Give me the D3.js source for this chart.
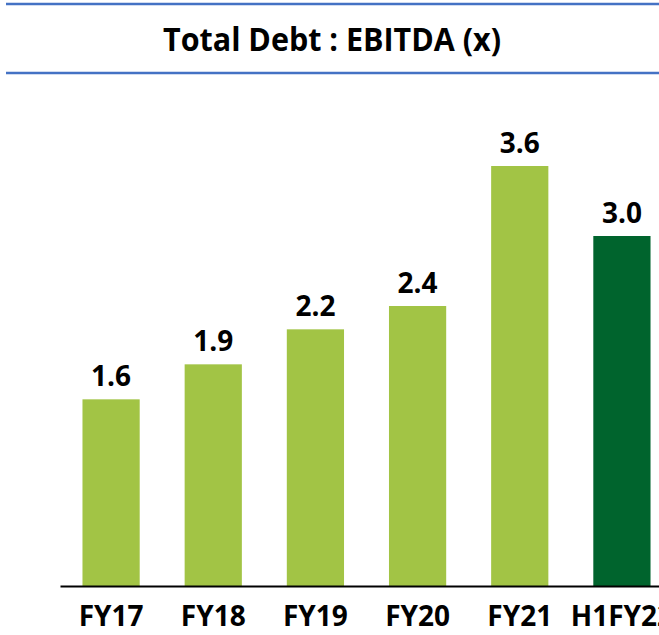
<!DOCTYPE html>
<html>
<head>
<meta charset="utf-8">
<script src="https://cdnjs.cloudflare.com/ajax/libs/d3/7.8.5/d3.min.js"></script>
<style>
  body { margin: 0; background: #fff; }
  text { font-family: 'Open Sans', 'Noto Sans', sans-serif; font-weight: bold; fill: #000; }
</style>
</head>
<body>
<div class="chart"></div>
<script>
// Data
const categories = ['FY17', 'FY18', 'FY19', 'FY20', 'FY21', 'H1FY22'];
const values = [1.6, 1.9, 2.2, 2.4, 3.6, 3.0];
const valueLabels = ['1.6', '1.9', '2.2', '2.4', '3.6', '3.0'];
const highlighted = ['H1FY22'];

const svg_width = 659;
const svg_height = 635;

const svg = d3.select('.chart').append('svg')
    .attr('width', svg_width).attr('height', svg_height);

// 標題與上下兩條藍線
svg.append('line').attr('x1', 6).attr('x2', svg_width).attr('y1', 4).attr('y2', 4)
    .style('stroke', '#4472C4').style('stroke-width', 2.5);
svg.append('line').attr('x1', 6).attr('x2', svg_width).attr('y1', 73).attr('y2', 73)
    .style('stroke', '#4472C4').style('stroke-width', 2.5);
svg.append('text').attr('x', 332).attr('y', 51)
    .attr('text-anchor', 'middle')
    .attr('textLength', 338).attr('lengthAdjust', 'spacingAndGlyphs')
    .style('font-size', '33px')
    .text('Total Debt : EBITDA (x)');

// scales
const xScale = d3.scaleBand().domain(categories).range([60, 673])
    .paddingInner(0.44).paddingOuter(0.22);
const yScale = d3.scaleLinear().domain([0, 3.6]).range([586, 166]);

const data = categories.map((c, i) => ({ cat: c, value: values[i], label: valueLabels[i] }));

svg.selectAll('.bar').data(data).enter()
    .append('rect').attr('class', 'bar')
    .attr('x', d => xScale(d.cat))
    .attr('y', d => yScale(d.value))
    .attr('width', xScale.bandwidth())
    .attr('height', d => yScale(0) - yScale(d.value))
    .style('fill', d => highlighted.includes(d.cat) ? '#00642D' : '#A2C445');

svg.selectAll('.bar-label').data(data).enter()
    .append('text').attr('class', 'bar-label')
    .attr('x', d => xScale(d.cat) + xScale.bandwidth() / 2)
    .attr('y', d => yScale(d.value) - 13)
    .attr('text-anchor', 'middle')
    .style('font-size', '28px')
    .text(d => d.label);

// x axis
const xAxis = d3.axisBottom(xScale).tickSize(0).tickSizeOuter(0);
const xAxisDraw = svg.append('g').attr('class', 'x axis')
    .attr('transform', `translate(0,586)`)
    .call(xAxis);
xAxisDraw.select('.domain').style('stroke', '#000').style('stroke-width', 2);
xAxisDraw.selectAll('text')
    .attr('y', 40).attr('dy', null)
    .style('font-size', '28px')
    .style('font-family', "'Open Sans', 'Noto Sans', sans-serif")
    .style('font-weight', 'bold')
    .style('fill', '#000');
</script>
</body>
</html>
